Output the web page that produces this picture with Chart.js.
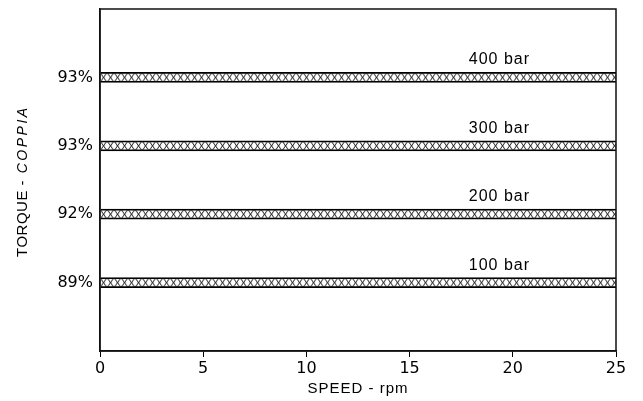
<!DOCTYPE html>
<html>
<head>
<meta charset="utf-8">
<script src="https://cdn.jsdelivr.net/npm/chart.js@4/dist/chart.umd.min.js"></script>
<style>
  html, body { margin: 0; padding: 0; background: #fff; }
  #wrap { width: 643px; height: 401px; }
</style>
</head>
<body>
<div id="wrap"><canvas id="torqueChart" width="643" height="401"></canvas></div>
<script>
// torque efficiency per pressure band (top to bottom)
const torqueLabels = ['93%', '93%', '92%', '89%'];
const pressureLabels = ['400 bar', '300 bar', '200 bar', '100 bar'];
const speedFrom = [0, 0, 0, 0];
const speedTo = [25, 25, 25, 25];
const speedTicks = [0, 5, 10, 15, 20, 25];
const labelSpeed = 19.35;

const BAR_H = 10;

// empty slot above and below so the bands sit on even fifths
const yLabels = [''].concat(torqueLabels, ['']);
const barData = [null].concat(speedFrom.map((s, i) => [s, speedTo[i]]), [null]);

function hatchFor(ctx) {
    const chart = ctx.chart;
    const y = chart.scales.y;
    const pc = document.createElement('canvas');
    pc.width = 7; pc.height = BAR_H;
    const p = pc.getContext('2d');
    p.strokeStyle = '#111';
    p.lineWidth = 1;
    p.beginPath();
    p.moveTo(0, 0); p.lineTo(7, BAR_H);
    p.moveTo(7, 0); p.lineTo(0, BAR_H);
    p.stroke();
    const pat = chart.ctx.createPattern(pc, 'repeat');
    if (y && ctx.dataIndex != null) {
        const top = y.getPixelForValue(ctx.dataIndex) - BAR_H / 2;
        pat.setTransform(new DOMMatrix().translate(chart.chartArea ? chart.chartArea.left : 0, top));
    }
    return pat;
}

const decor = {
    id: 'decor',
    afterDraw(chart) {
        const { ctx, chartArea: a, scales: { x, y } } = chart;
        ctx.save();
        ctx.strokeStyle = '#111';
        ctx.lineWidth = 1.5;
        ctx.strokeRect(a.left, a.top, a.right - a.left, a.bottom - a.top);

        ctx.fillStyle = '#000';
        ctx.font = '16px "Liberation Sans"';
        ctx.letterSpacing = '1px';
        ctx.textAlign = 'center';
        ctx.textBaseline = 'alphabetic';
        pressureLabels.forEach((t, i) => {
            ctx.fillText(t, x.getPixelForValue(labelSpeed), y.getPixelForValue(i + 1) - 13);
        });

        ctx.font = '15px "Liberation Sans"';
        ctx.fillText('SPEED - rpm', (a.left + a.right) / 2, 393);

        // y title: TORQUE - (upright) + COPPIA (italic)
        ctx.translate(27, 257);
        ctx.rotate(-Math.PI / 2);
        ctx.textAlign = 'left';
        ctx.letterSpacing = '0.5px';
        ctx.font = '15px "Liberation Sans"';
        const part1 = 'TORQUE - ';
        ctx.fillText(part1, 0, 0);
        const w1 = ctx.measureText(part1).width;
        ctx.font = 'italic 14px "Liberation Sans"';
        ctx.letterSpacing = '2.5px';
        ctx.fillText('COPPIA', w1 + 2, 0);
        ctx.restore();
    }
};

new Chart(document.getElementById('torqueChart'), {
    type: 'bar',
    data: {
        labels: yLabels,
        datasets: [{
            data: barData,
            backgroundColor: hatchFor,
            borderColor: '#000',
            borderWidth: { top: 1, bottom: 1, left: 0, right: 0 },
            borderSkipped: false,
            barThickness: BAR_H
        }]
    },
    options: {
        indexAxis: 'y',
        responsive: false,
        animation: false,
        layout: { autoPadding: false, padding: { top: 9, right: 27, left: 0, bottom: 0 } },
        plugins: { legend: { display: false }, tooltip: { enabled: false } },
        scales: {
            x: {
                type: 'linear',
                min: 0,
                max: 25,
                afterBuildTicks: s => { s.ticks = speedTicks.map(v => ({ value: v })); },
                afterFit: s => { s.height = 50; s.paddingLeft = 0; s.paddingRight = 0; },
                grid: { display: true, drawOnChartArea: false, drawTicks: true, tickLength: 6, color: '#000' },
                border: { display: true, color: '#111', width: 1.5 },
                ticks: { color: '#000', padding: 2, maxRotation: 0, font: { family: 'DejaVu Sans', size: 16 } }
            },
            y: {
                type: 'category',
                offset: false,
                afterFit: s => { s.width = 100; s.paddingTop = 0; s.paddingBottom = 0; },
                grid: { display: false, drawTicks: false },
                border: { display: true, color: '#111', width: 1.5 },
                ticks: { color: '#000', padding: 7, autoSkip: false, font: { family: 'DejaVu Sans', size: 16 } }
            }
        }
    },
    plugins: [decor]
});
</script>
</body>
</html>
